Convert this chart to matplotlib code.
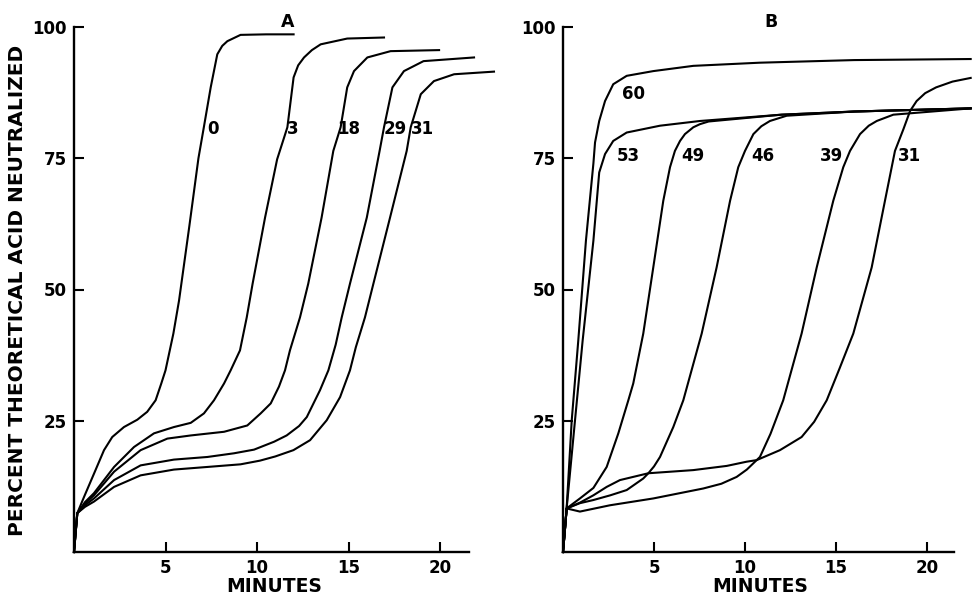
import matplotlib
matplotlib.use("Agg")
import matplotlib.pyplot as plt

plt.rcParams['font.family'] = ['DejaVu Sans']

# ---- panel A: curves (minutes, percent) ----
a0_x = [0, 0.18, 0.55, 1.09, 1.64, 2.09, 2.73, 3.46, 4.0, 4.46, 4.77, 5.0, 5.43, 5.74, 6.3, 6.8, 7.1, 7.47, 7.83, 8.1, 8.38, 9.1, 10.5, 12.0]
a0_y = [0, 7.4, 10.5, 14.9, 19.4, 21.9, 23.8, 25.2, 26.7, 28.9, 32.1, 34.6, 41.6, 47.9, 62, 75, 81, 88.5, 94.8, 96.4, 97.3, 98.5, 98.6, 98.6]

a3_x = [0, 0.18, 0.6, 1.09, 2.19, 3.28, 4.37, 5.46, 6.38, 7.1, 7.65, 8.2, 8.56, 9.07, 9.44, 9.76, 10.44, 11.1, 11.66, 12.0, 12.25, 12.57, 13.0, 13.48, 14.93, 16.94]
a3_y = [0, 7.4, 9.5, 11.2, 16.2, 20.0, 22.6, 23.8, 24.6, 26.4, 28.9, 32.1, 34.6, 38.4, 44.7, 51.1, 63.7, 74.8, 80.9, 90.4, 92.7, 94.2, 95.6, 96.7, 97.8, 98.0]

a18_x = [0, 0.18, 0.6, 1.09, 2.19, 3.64, 5.1, 6.38, 8.2, 9.47, 10.2, 10.75, 11.2, 11.53, 11.8, 12.35, 12.8, 13.53, 14.17, 14.57, 14.93, 15.3, 16.03, 17.3, 19.95]
a18_y = [0, 7.4, 9.2, 10.8, 15.3, 19.4, 21.6, 22.2, 22.9, 24.1, 26.4, 28.3, 31.5, 34.6, 38.4, 44.7, 51.1, 63.7, 76.4, 80.9, 88.5, 91.6, 94.2, 95.4, 95.6]

a29_x = [0, 0.18, 0.6, 1.09, 2.19, 3.64, 5.46, 7.29, 8.74, 9.84, 10.93, 11.62, 12.3, 12.72, 13.44, 13.9, 14.3, 14.63, 15.08, 16.0, 16.7, 16.94, 17.4, 18.03, 19.1, 21.86]
a29_y = [0, 7.4, 8.9, 10.2, 13.7, 16.5, 17.6, 18.1, 18.8, 19.5, 21.0, 22.2, 24.0, 25.7, 30.8, 34.6, 39.5, 44.7, 51.1, 63.7, 76.4, 80.9, 88.5, 91.6, 93.5, 94.2]

a31_x = [0, 0.18, 0.6, 1.09, 2.19, 3.64, 5.46, 7.29, 9.1, 10.16, 11.0, 11.99, 12.9, 13.81, 14.54, 15.08, 15.4, 15.9, 16.36, 17.27, 18.18, 18.4, 18.95, 19.67, 20.77, 22.95]
a31_y = [0, 7.4, 8.6, 9.6, 12.4, 14.6, 15.7, 16.2, 16.7, 17.4, 18.2, 19.4, 21.3, 25.1, 29.5, 34.6, 39.0, 44.7, 51.1, 63.7, 76.4, 80.9, 87.2, 89.7, 91.0, 91.5]

a_labels = ['0', '3', '18', '29', '31']
a_label_x = [7.61, 11.97, 15.03, 17.58, 19.03]
a_label_y = 80.5

# ---- panel B ----
b60_x = [0, 0.1, 0.2, 0.48, 0.84, 1.26, 1.67, 1.76, 1.99, 2.31, 2.76, 3.5, 4.96, 7.16, 10.8, 16, 22.4]
b60_y = [0, 4, 8.3, 25.1, 40.3, 59.3, 74, 78, 82.1, 85.9, 89.1, 90.7, 91.6, 92.6, 93.2, 93.7, 93.9]

b53_x = [0, 0.1, 0.2, 0.66, 1.08, 1.67, 1.99, 2.31, 2.76, 3.5, 5.33, 7.53, 12, 16, 22.4]
b53_y = [0, 4, 8.3, 25.1, 40.3, 59.3, 72.3, 75.8, 78.3, 79.9, 81.2, 82.1, 83.3, 83.9, 84.5]

b49_x = [0, 0.1, 0.2, 0.93, 1.67, 2.4, 3.04, 3.59, 3.86, 4.41, 4.96, 5.51, 5.88, 6.15, 6.43, 6.7, 7.16, 7.53, 8.0, 12, 16, 22.4]
b49_y = [0, 4, 8.3, 10.2, 12.2, 16.2, 22.6, 28.9, 32.1, 41.6, 54.2, 66.9, 73.3, 76.4, 78.3, 79.6, 80.9, 81.5, 82.0, 83.3, 83.9, 84.5]

b46_x = [0, 0.1, 0.2, 0.93, 1.67, 2.6, 3.5, 4.41, 4.69, 5.0, 5.33, 6.06, 6.61, 7.62, 8.44, 9.18, 9.63, 10.0, 10.46, 10.9, 11.37, 12.29, 16, 22.4]
b46_y = [0, 4, 8.3, 9.3, 9.9, 10.8, 11.8, 14.0, 15.0, 16.3, 18.1, 23.8, 28.9, 41.6, 54.2, 66.9, 73.3, 76.4, 79.6, 81.1, 82.1, 83.1, 83.9, 84.5]

b39_x = [0, 0.1, 0.2, 0.93, 2.58, 4.96, 7.71, 8.7, 9.54, 10.1, 10.64, 10.82, 11.4, 12.1, 13.11, 13.94, 14.85, 15.4, 15.77, 16.32, 16.8, 17.24, 18.15, 22.4]
b39_y = [0, 4, 8.3, 7.7, 8.9, 10.2, 12.1, 13.0, 14.3, 15.7, 17.5, 18.1, 22.5, 28.9, 41.6, 54.2, 66.9, 73.3, 76.4, 79.6, 81.2, 82.1, 83.3, 84.5]

b31_x = [0, 0.1, 0.2, 0.93, 1.67, 2.4, 3.13, 4.69, 7.16, 9.0, 10.09, 10.64, 11.92, 13.11, 13.8, 14.49, 15.2, 15.95, 16.96, 17.69, 18.24, 18.7, 19.07, 19.43, 19.9, 20.5, 21.4, 22.4]
b31_y = [0, 4, 8.3, 9.4, 10.8, 12.4, 13.7, 15.0, 15.6, 16.4, 17.2, 17.5, 19.4, 21.9, 24.8, 28.9, 35.0, 41.6, 54.2, 66.9, 76.4, 80.5, 84.0, 85.9, 87.4, 88.5, 89.6, 90.3]

b_labels = ['60', '53', '49', '46', '39', '31']
b_label_x = [3.9, 3.59, 7.13, 10.97, 14.76, 19.03]
b_label_y = [87.3, 75.5, 75.5, 75.5, 75.5, 75.5]

yticks = [25, 50, 75, 100]
xticks = [5, 10, 15, 20]

fig = plt.figure(figsize=(9.72, 5.97), dpi=100)
axA = fig.add_axes([74 / 972, 45 / 597, 23.0 * 18.3 / 972, 525 / 597])
axB = fig.add_axes([563 / 972, 45 / 597, 22.47 * 18.2 / 972, 525 / 597])


def style_axis(ax, xmax, xend):
    ax.set_xlim(0, xmax)
    ax.set_ylim(0, 100)
    ax.patch.set_visible(False)
    for side in ['top', 'right']:
        ax.spines[side].set_visible(False)
    ax.spines['left'].set_bounds(0, 100)
    ax.spines['bottom'].set_bounds(0, xend)
    for side in ['left', 'bottom']:
        ax.spines[side].set_linewidth(1.7)
    ax.set_xticks(xticks)
    ax.set_yticks(yticks)
    ax.tick_params(direction='in', length=7.5, width=1.5, pad=5, labelsize=12)
    for lab in ax.get_xticklabels() + ax.get_yticklabels():
        lab.set_fontweight('bold')


style_axis(axA, 23.0, 21.6)
style_axis(axB, 22.47, 21.5)

for xs, ys in [(a0_x, a0_y), (a3_x, a3_y), (a18_x, a18_y), (a29_x, a29_y), (a31_x, a31_y)]:
    axA.plot(xs, ys, color='black', linewidth=1.5, clip_on=False, solid_joinstyle='round')
for lab, lx in zip(a_labels, a_label_x):
    axA.text(lx, a_label_y, lab, fontsize=12, fontweight='bold', ha='center', va='center')

for xs, ys in [(b60_x, b60_y), (b53_x, b53_y), (b49_x, b49_y), (b46_x, b46_y), (b39_x, b39_y), (b31_x, b31_y)]:
    axB.plot(xs, ys, color='black', linewidth=1.5, clip_on=False, solid_joinstyle='round')
for lab, lx, ly in zip(b_labels, b_label_x, b_label_y):
    axB.text(lx, ly, lab, fontsize=12, fontweight='bold', ha='center', va='center')

fig.text(288 / 972, 1 - 22 / 597, 'A', fontsize=12.5, fontweight='bold', ha='center', va='center')
fig.text(771 / 972, 1 - 22 / 597, 'B', fontsize=12.5, fontweight='bold', ha='center', va='center')
fig.text(274 / 972, 1 - 587 / 597, 'MINUTES', fontsize=13.5, fontweight='bold', ha='center', va='center')
fig.text(760 / 972, 1 - 587 / 597, 'MINUTES', fontsize=13.5, fontweight='bold', ha='center', va='center')
fig.text(18 / 972, 1 - 290 / 597, 'PERCENT THEORETICAL ACID NEUTRALIZED', fontsize=14.5,
         fontweight='bold', rotation=90, ha='center', va='center')

fig.savefig('out.png', dpi=100)
